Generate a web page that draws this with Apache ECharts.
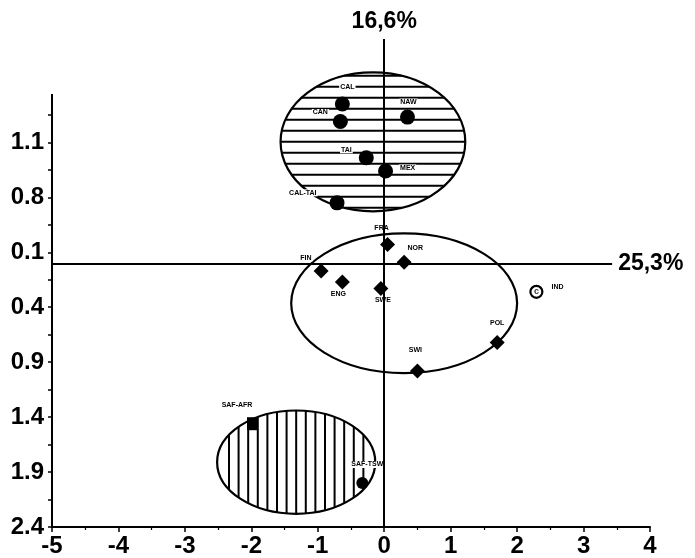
<!DOCTYPE html>
<html>
<head>
<meta charset="utf-8">
<script src="https://cdn.jsdelivr.net/npm/echarts@6/dist/echarts.min.js"></script>
<style>
html, body { margin: 0; padding: 0; background: #fff; }
#main { width: 695px; height: 558px; }
</style>
</head>
<body>
<div id="main"></div>
<script>
// group 1, filled circles
var circleNames = ['CAL', 'CAN', 'NAW', 'TAI', 'MEX', 'CAL-TAI'];
var circleX = [-0.63, -0.66, 0.35, -0.27, 0.02, -0.71];
var circleY = [1.45, 1.29, 1.33, 0.96, 0.84, 0.55];
// group 2, diamonds
var diamondNames = ['FRA', 'NOR', 'FIN', 'ENG', 'SWE', 'POL', 'SWI'];
var diamondX = [0.05, 0.30, -0.95, -0.63, -0.05, 1.70, 0.50];
var diamondY = [0.17, 0.01, -0.07, -0.17, -0.23, -0.72, -0.98];
// outlier
var ringNames = ['IND'];
var ringX = [2.29];
var ringY = [-0.26];
// group 3
var safNames = ['SAF-AFR', 'SAF-TSW'];
var safX = [-1.99, -0.33];
var safY = [-1.46, -2.00];
// ellipses round the groups: centre and half axes
var ellCX = [-0.17, 0.30, -1.325];
var ellCY = [1.105, -0.364, -1.81];
var ellRX = [1.39, 1.70, 1.19];
var ellRY = [0.632, 0.636, 0.47];
var ellHatch = ['h', '', 'v'];
// axes
var yTicks = [-2.4, -1.9, -1.4, -0.9, -0.4, 0.1, 0.6, 1.1];
var yLabels = ['2.4', '1.9', '1.4', '0.9', '0.4', '0.1', '0.8', '1.1'];
var yMinor = [-2.15, -1.65, -1.15, -0.65, -0.15, 0.35, 0.85, 1.35];
var axisNames = ['16,6%', '25,3%'];

var font = "'Liberation Sans', Arial, sans-serif";

// where each point label sits: position, distance, offset
var labelPlace = {
    'CAL': ['top', 5, 5, -1],
    'CAN': ['left', 4, 0, -9],
    'NAW': ['top', 4, 1, 0],
    'TAI': ['left', 6, 0, -8],
    'MEX': ['right', 6, 0, -3],
    'CAL-TAI': ['left', 12, 0, -10],
    'FRA': ['top', 6, -6, 0],
    'NOR': ['top', 3, 11, 0],
    'FIN': ['left', 4, 3, -13],
    'ENG': ['bottom', 1, -4, 0],
    'SWE': ['bottom', 1, 2, 0],
    'IND': ['right', 7, 0, -5],
    'POL': ['top', 8, 0, 0],
    'SWI': ['top', 10, -2, 0],
    'SAF-AFR': ['top', 9, -15, 0],
    'SAF-TSW': ['top', 9, 5, 0]
};

function points(names, xs, ys) {
    return names.map(function (n, i) {
        var p = labelPlace[n];
        return {
            name: n,
            value: [xs[i], ys[i]],
            label: {position: p[0], distance: p[1], offset: [p[2], p[3]]}
        };
    });
}

var pointLabel = {
    show: true,
    formatter: '{b}',
    fontFamily: font,
    fontSize: 7,
    fontWeight: 'bold',
    color: '#000',
    backgroundColor: '#fff',
    padding: [0, 1]
};

function renderEllipse(params, api) {
    var c = api.coord([api.value(0), api.value(1)]);
    var s = api.size([api.value(2), api.value(3)]);
    var rx = s[0], ry = s[1];
    var hatch = ellHatch[params.dataIndex];
    var children = [];
    var d, w, step;
    if (hatch === 'h') {
        step = 11;
        for (d = -Math.floor((ry - 3) / step) * step; d < ry - 3; d += step) {
            w = rx * Math.sqrt(1 - (d / ry) * (d / ry));
            children.push({
                type: 'line',
                shape: {x1: c[0] - w, y1: c[1] + d, x2: c[0] + w, y2: c[1] + d},
                style: {stroke: '#000', lineWidth: 2}
            });
        }
    } else if (hatch === 'v') {
        step = 9.6;
        for (d = -Math.floor((rx - 3) / step) * step; d < rx - 3; d += step) {
            w = ry * Math.sqrt(1 - (d / rx) * (d / rx));
            children.push({
                type: 'line',
                shape: {x1: c[0] + d, y1: c[1] - w, x2: c[0] + d, y2: c[1] + w},
                style: {stroke: '#000', lineWidth: 2}
            });
        }
    }
    children.push({
        type: 'ellipse',
        shape: {cx: c[0], cy: c[1], rx: rx, ry: ry},
        style: {fill: 'none', stroke: '#000', lineWidth: 2.2}
    });
    return {type: 'group', children: children};
}

var myChart = echarts.init(document.getElementById('main'));
var option = {
    animation: false,
    backgroundColor: '#fff',
    grid: {left: 52, right: 45, top: 38, bottom: 30},
    xAxis: {
        type: 'value',
        min: -5,
        max: 4,
        interval: 1,
        splitLine: {show: false},
        axisLine: {onZero: false, lineStyle: {color: '#000', width: 2}},
        axisTick: {length: 5, lineStyle: {color: '#000', width: 1.5}},
        minorTick: {show: true, splitNumber: 2, length: 3, lineStyle: {color: '#000', width: 1.2}},
        axisLabel: {color: '#000', fontFamily: font, fontSize: 24, fontWeight: 'bold', margin: 7}
    },
    yAxis: {
        type: 'value',
        min: -2.4,
        max: 2.05,
        splitLine: {show: false},
        axisLine: {show: false, onZero: false},
        axisTick: {
            show: true,
            length: 4,
            customValues: yTicks.concat(yMinor),
            lineStyle: {color: '#000', width: 1.5}
        },
        axisLabel: {
            customValues: yTicks,
            color: '#000', fontFamily: font, fontSize: 24, fontWeight: 'bold', margin: 8,
            formatter: function (v) {
                for (var i = 0; i < yTicks.length; i++) {
                    if (Math.abs(yTicks[i] - v) < 1e-6) return yLabels[i];
                }
                return '';
            }
        }
    },
    series: [
        {
            type: 'custom',
            z: 1,
            renderItem: renderEllipse,
            encode: {x: 0, y: 1},
            data: ellCX.map(function (cx, i) { return [cx, ellCY[i], ellRX[i], ellRY[i]]; })
        },
        {
            name: 'axes',
            type: 'scatter',
            z: 2,
            symbolSize: 0,
            data: [],
            markLine: {
                silent: true,
                symbol: 'none',
                lineStyle: {color: '#000', width: 2, type: 'solid'},
                label: {
                    show: true,
                    position: 'end',
                    formatter: function (p) { return p.name; },
                    fontFamily: font, fontSize: 23, fontWeight: 'bold', color: '#000',
                    distance: 6
                },
                emphasis: {disabled: true},
                data: [
                    [{name: '', coord: [-5, -2.4]}, {coord: [-5, 1.54]}],
                    [{name: axisNames[0], coord: [0, -2.4]}, {coord: [0, 2.04]}],
                    [{name: axisNames[1], coord: [-5, 0]}, {coord: [3.43, 0]}]
                ]
            }
        },
        {
            type: 'scatter',
            z: 3,
            symbol: 'circle',
            symbolSize: 15,
            itemStyle: {color: '#000', opacity: 1},
            label: pointLabel,
            data: points(circleNames, circleX, circleY)
        },
        {
            type: 'scatter',
            z: 3,
            symbol: 'diamond',
            symbolSize: 15,
            itemStyle: {color: '#000', opacity: 1},
            label: pointLabel,
            data: points(diamondNames, diamondX, diamondY)
        },
        {
            type: 'scatter',
            z: 3,
            symbol: 'circle',
            symbolSize: 12,
            itemStyle: {color: '#fff', borderColor: '#000', borderWidth: 2.2, opacity: 1},
            label: pointLabel,
            data: points(ringNames, ringX, ringY)
        },
        {
            type: 'scatter',
            z: 4,
            symbolSize: 1,
            itemStyle: {color: 'transparent'},
            label: {
                show: true, position: 'inside', formatter: 'c',
                fontFamily: font, fontSize: 9, fontWeight: 'bold', color: '#000'
            },
            data: ringX.map(function (x, i) { return [x, ringY[i]]; })
        },
        {
            type: 'scatter',
            z: 3,
            symbolSize: function (v, p) { return p.dataIndex === 0 ? [10, 13] : 12; },
            symbol: function (v, p) { return p.dataIndex === 0 ? 'rect' : 'circle'; },
            itemStyle: {color: '#000', opacity: 1},
            label: pointLabel,
            data: points(safNames, safX, safY)
        }
    ]
};
myChart.setOption(option);
</script>
</body>
</html>
